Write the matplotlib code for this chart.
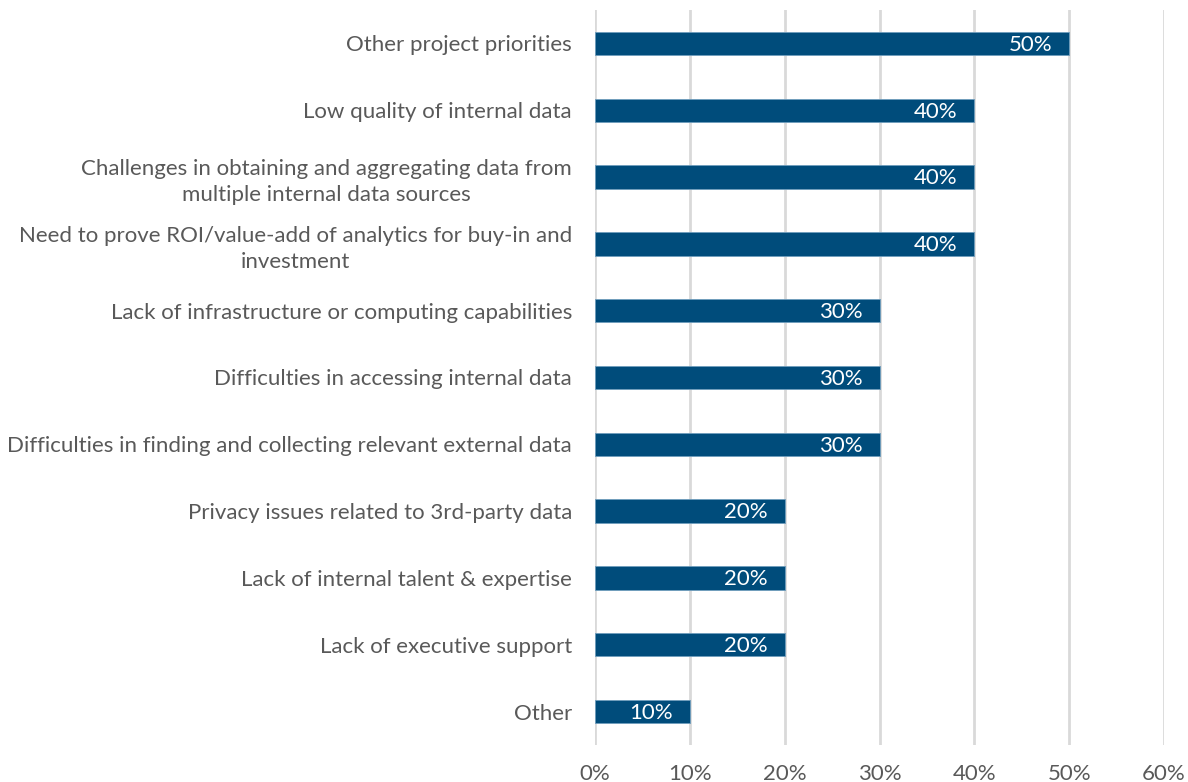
import matplotlib
matplotlib.use("Agg")
import matplotlib.pyplot as plt
from matplotlib.ticker import FuncFormatter

categories = [
    "Other project priorities",
    "Low quality of internal data",
    "Challenges in obtaining and aggregating data from\nmultiple internal data sources",
    "Need to prove ROI/value-add of analytics for buy-in and\ninvestment",
    "Lack of infrastructure or computing capabilities",
    "Difficulties in accessing internal data",
    "Difficulties in finding and collecting relevant external data",
    "Privacy issues related to 3rd-party data",
    "Lack of internal talent & expertise",
    "Lack of executive support",
    "Other",
]
values = [50, 40, 40, 40, 30, 30, 30, 20, 20, 20, 10]
xticks = [0, 10, 20, 30, 40, 50, 60]

plt.rcParams['font.family'] = ['Lato', 'DejaVu Sans']

fig = plt.figure(figsize=(11.88, 7.82), dpi=100)
ax = fig.add_axes([595/1188, 1-745/782, (1164-595)/1188, (745-10)/782])

pos = list(range(len(categories)))
bars = ax.barh(pos, values, height=0.35, color='#004c7b', edgecolor='#6f9dbd', linewidth=0.6, zorder=3)
ax.set_ylim(len(categories)-0.5, -0.5)
ax.set_xlim(0, 60)
ax.set_yticks(pos)
ax.set_yticklabels(categories, fontsize=16, color='#595959', multialignment='center',
                   linespacing=1.4)
ax.set_xticks(xticks)
ax.xaxis.set_major_formatter(FuncFormatter(lambda v, p: f"{int(v)}%"))
ax.tick_params(axis='x', labelsize=16, labelcolor='#595959', length=0, pad=14)
ax.tick_params(axis='y', length=0, pad=16.5)
for s in ax.spines.values():
    s.set_visible(False)
ax.grid(axis='x', color='#d9d9d9', linewidth=2, zorder=0)
ax.set_axisbelow(True)

for b, v in zip(bars, values):
    ax.text(b.get_width() - 1.75, b.get_y() + b.get_height()/2 + 0.02, f"{v}%",
            ha='right', va='center', color='white', fontsize=16, zorder=4)

fig.savefig("out.png", dpi=100)
